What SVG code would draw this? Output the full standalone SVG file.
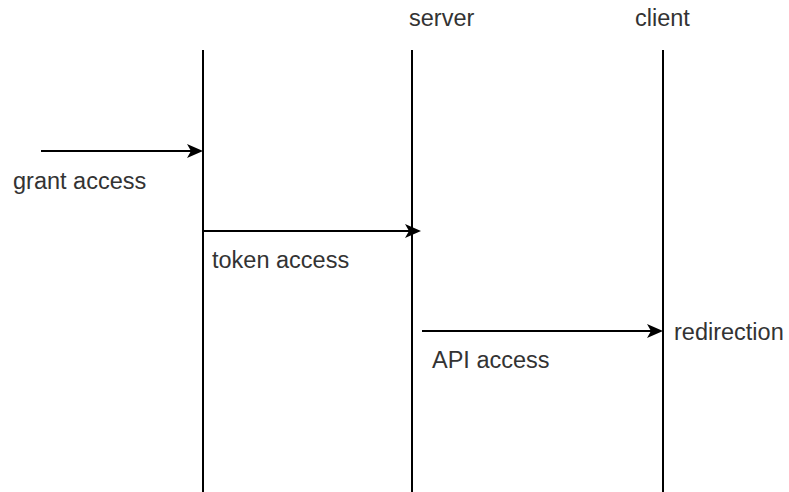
<svg xmlns="http://www.w3.org/2000/svg" width="789" height="492" viewBox="0 0 789 492">
  <style>
    .life { stroke: #000; stroke-width: 2; fill: none; }
    .msg { stroke: #000; stroke-width: 2; fill: none; }
    .lbl { font-family: "Liberation Sans", Arial, sans-serif; font-size: 23.5px; fill: #333; }
  </style>
  <defs>
    <path id="head" d="M0,0 L-16,-7 L-12,0 L-16,7 Z" fill="#000"/>
  </defs>
  <rect width="789" height="492" fill="#fff"/>

  <g id="lifeline-left">
    <line class="life" x1="203" y1="50" x2="203" y2="492"/>
  </g>
  <g id="lifeline-server">
    <text class="lbl" x="409" y="26">server</text>
    <line class="life" x1="412" y1="50" x2="412" y2="492"/>
  </g>
  <g id="lifeline-client">
    <text class="lbl" x="635" y="26">client</text>
    <line class="life" x1="663" y1="50" x2="663" y2="492"/>
  </g>

  <g id="connectors">
    <g id="grant-access">
      <line class="msg" x1="41" y1="151" x2="195" y2="151"/>
      <use href="#head" x="203" y="151"/>
      <text class="lbl" x="13" y="189">grant access</text>
    </g>
    <g id="token-access">
      <line class="msg" x1="203" y1="231" x2="413" y2="231"/>
      <use href="#head" x="421" y="231"/>
      <text class="lbl" x="212" y="268">token access</text>
    </g>
    <g id="api-access">
      <line class="msg" x1="422" y1="331" x2="655" y2="331"/>
      <use href="#head" x="663" y="331"/>
      <text class="lbl" x="432" y="368">API access</text>
      <text class="lbl" x="674" y="340">redirection</text>
    </g>
  </g>
</svg>
